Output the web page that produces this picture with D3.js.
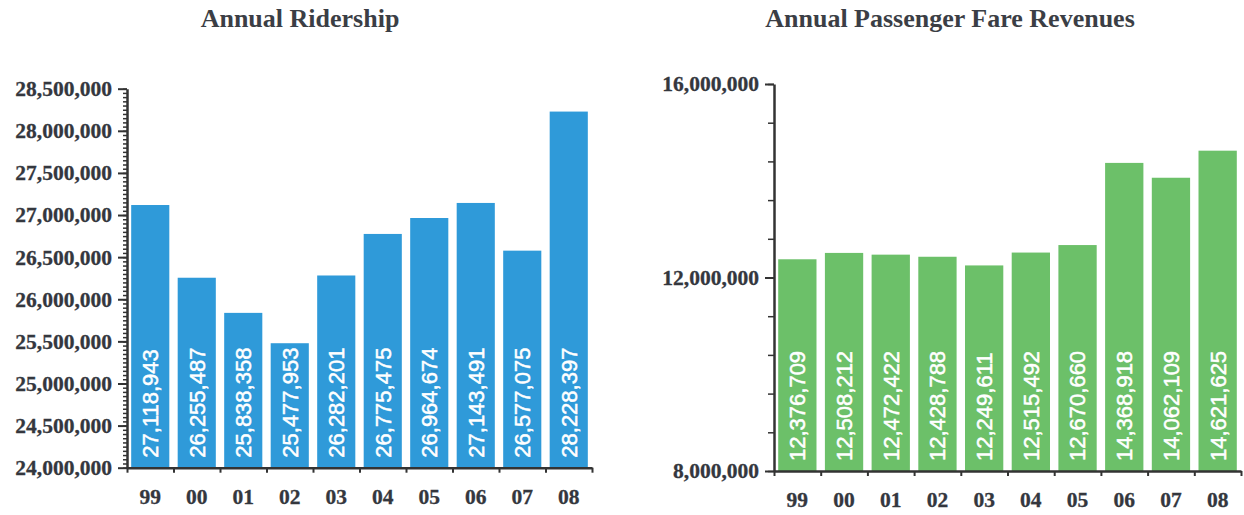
<!DOCTYPE html>
<html>
<head>
<meta charset="utf-8">
<script src="https://cdn.jsdelivr.net/npm/d3@7"></script>
<style>
  body { margin: 0; background: #fff; }
  .title { font-family: "Liberation Serif", "Times New Roman", serif; font-weight: bold; font-size: 26px; fill: #3b3e45; }
  .tick text { font-family: "Liberation Serif", "Times New Roman", serif; font-weight: bold; font-size: 21.5px; fill: #34373e; stroke: #34373e; stroke-width: 0.3px; }
  .barlabel { font-family: "Liberation Sans", Arial, sans-serif; font-size: 22px; fill: #fff; stroke: #fff; stroke-width: 0.5px; }
</style>
</head>
<body>
<div id="chart"></div>
<script>
// Data
const years = ["99", "00", "01", "02", "03", "04", "05", "06", "07", "08"];
const ridership = [27118943, 26255487, 25838358, 25477953, 26282201, 26775475, 26964674, 27143491, 26577075, 28228397];
const fares = [12376709, 12508212, 12472422, 12428788, 12249611, 12515492, 12670660, 14368918, 14062109, 14621625];
const ridershipTicks = [24000000, 24500000, 25000000, 25500000, 26000000, 26500000, 27000000, 27500000, 28000000, 28500000];
const fareTicks = [8000000, 12000000, 16000000];

const svg = d3.select("#chart")
    .append("svg")
    .attr("width", 1244)
    .attr("height", 515);

const fmt = d3.format(",");

// Draw one panel
function drawPanel(opts) {
    const g = svg.append("g")
        .attr("transform", `translate(${opts.left},${opts.top})`);

    const x = d3.scaleBand().domain(years).range([0, opts.width]).paddingInner(0.18).paddingOuter(0.09);
    const idx = d3.scaleLinear().domain([0, years.length]).range([0, opts.width]);
    const y = d3.scaleLinear().domain(opts.domain).range([opts.height, 0]);

    // bars
    g.selectAll(".bar")
        .data(opts.values)
        .join("rect")
        .attr("class", "bar")
        .attr("x", (d, i) => x(years[i]))
        .attr("y", d => y(d))
        .attr("width", x.bandwidth())
        .attr("height", d => opts.height - y(d))
        .attr("fill", opts.color);

    // value labels
    g.selectAll(".barlabel")
        .data(opts.values)
        .join("text")
        .attr("class", "barlabel")
        .attr("transform", (d, i) => `translate(${x(years[i]) + x.bandwidth() / 2},${opts.height - 10}) rotate(-90)`)
        .attr("dy", "0.36em")
        .text(d => fmt(d));

    // minor y ticks
    g.append("g")
        .call(d3.axisLeft(y).tickValues(opts.minor).tickSize(opts.minorSize).tickFormat(""))
        .call(a => a.select(".domain").remove())
        .selectAll("line").attr("stroke", "#333").attr("stroke-width", 1.5);

    // major y ticks
    const yAxis = g.append("g")
        .call(d3.axisLeft(y).tickValues(opts.major).tickSize(9).tickPadding(6).tickFormat(fmt).tickSizeOuter(0));
    yAxis.select(".domain").attr("stroke", "#333").attr("stroke-width", 2.5);
    yAxis.selectAll("line").attr("stroke", "#333").attr("stroke-width", 2);

    // x axis boundaries
    const xAxis = g.append("g")
        .attr("transform", `translate(0,${opts.height})`)
        .call(d3.axisBottom(idx).tickValues(d3.range(0, years.length + 1)).tickSize(5).tickFormat("").tickSizeOuter(0));
    xAxis.select(".domain").attr("stroke", "#333").attr("stroke-width", 2.5);
    xAxis.selectAll("line").attr("stroke", "#333").attr("stroke-width", 2);

    // x labels
    const xLab = g.append("g")
        .attr("transform", `translate(0,${opts.height})`)
        .call(d3.axisBottom(x).tickSize(0).tickPadding(opts.xPad));
    xLab.select(".domain").remove();

    // title
    svg.append("text")
        .attr("class", "title")
        .attr("x", opts.titleX)
        .attr("y", 27)
        .attr("text-anchor", "middle")
        .text(opts.title);
}

drawPanel({
    left: 127, top: 88.7, width: 465, height: 379,
    domain: [24000000, 28500000],
    values: ridership,
    major: ridershipTicks,
    minor: d3.range(24000000, 28500001, 50000),
    minorSize: 4,
    color: "#2f9ad9",
    xPad: 21,
    title: "Annual Ridership",
    titleX: 300
});

drawPanel({
    left: 774, top: 84, width: 467, height: 387,
    domain: [8000000, 16000000],
    values: fares,
    major: fareTicks,
    minor: d3.range(8000000, 16000001, 800000),
    minorSize: 6,
    color: "#6cc069",
    xPad: 21,
    title: "Annual Passenger Fare Revenues",
    titleX: 950
});
</script>
</body>
</html>
